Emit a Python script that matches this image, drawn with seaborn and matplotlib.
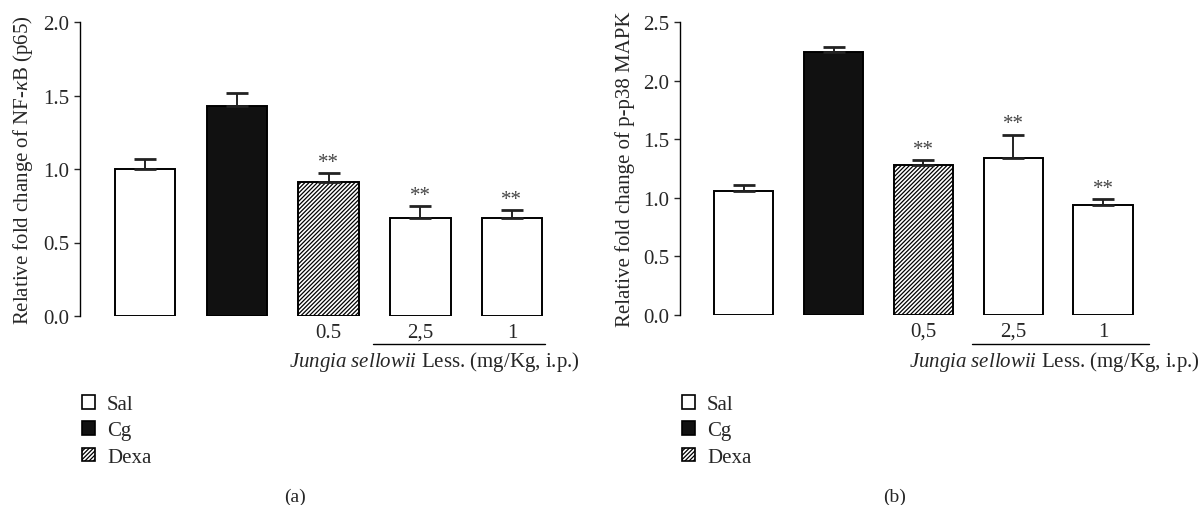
import numpy as np
import pandas as pd
import matplotlib
matplotlib.use("Agg")
import matplotlib.pyplot as plt
import matplotlib.transforms as mtransforms
from matplotlib.patches import Patch
import seaborn as sns

# data
groups = ["Sal", "Cg", "Dexa", "J2.5", "J1"]
nfkb_mean = [1.00, 1.43, 0.91, 0.67, 0.67]
nfkb_err = [0.07, 0.09, 0.06, 0.08, 0.05]
p38_mean = [1.06, 2.24, 1.28, 1.34, 0.94]
p38_err = [0.05, 0.05, 0.04, 0.20, 0.05]
stars = ["", "", "**", "**", "**"]
tick_a = ["", "", "0.5", "2,5", "1"]
tick_b = ["", "", "0,5", "2,5", "1"]
legend_labels = ["Sal", "Cg", "Dexa"]
fills = {"Sal": "white", "Cg": "#111111", "Dexa": "white", "J2.5": "white", "J1": "white"}

sns.set_style("white")
plt.rcParams["font.family"] = ["Liberation Serif", "DejaVu Serif"]
plt.rcParams["mathtext.fontset"] = "custom"
plt.rcParams["mathtext.it"] = "Liberation Serif:italic"
plt.rcParams["mathtext.rm"] = "Liberation Serif"
plt.rcParams["hatch.linewidth"] = 0.9

FS = 15
HATCH = "////////"
fig = plt.figure(figsize=(12.02, 5.06), dpi=100)
W, H = 1202, 506


def make_ax(left, right, top, bottom):
    return fig.add_axes([left / W, 1 - bottom / H, (right - left) / W, (bottom - top) / H])


def panel(ax, means, errs, ticks, ymax, ylabel, line_x, line_y, text_x, text_y):
    df = pd.DataFrame({"group": groups, "value": means})
    sns.barplot(data=df, x="group", y="value", hue="group", palette=fills,
                edgecolor="black", linewidth=1.4, width=0.66, legend=False, ax=ax)
    ax.patches[2].set_hatch(HATCH)
    ax.errorbar(range(len(groups)), means, yerr=[np.zeros(len(errs)), errs],
                fmt="none", ecolor="#222222", elinewidth=1.4, capsize=8, capthick=2)
    for i, s in enumerate(stars):
        if s:
            ax.text(i, means[i] + errs[i] + ymax * 0.004, s, ha="center", va="bottom",
                    fontsize=FS, color="#444444")
    ax.set_ylim(0, ymax)
    yt = np.arange(0, ymax + 0.01, 0.5)
    ax.set_yticks(yt)
    ax.set_yticklabels([f"{v:.1f}" for v in yt])
    ax.set_xlim(-0.71, 4.6)
    ax.set_xticks(range(len(groups)))
    ax.set_xticklabels(ticks)
    ax.tick_params(axis="x", length=0, pad=5, labelsize=FS)
    ax.tick_params(axis="y", direction="out", length=4, width=1, labelsize=FS, left=True)
    for side in ["top", "right", "bottom"]:
        ax.spines[side].set_visible(False)
    ax.spines["left"].set_linewidth(1)
    ax.spines["left"].set_color("black")
    ax.set_xlabel("")
    ax.set_ylabel(ylabel, fontsize=FS, labelpad=6)
    trans = mtransforms.blended_transform_factory(ax.transData, ax.transAxes)
    ax.plot(line_x, [line_y, line_y], color="black", lw=1, transform=trans, clip_on=False)
    ax.text(text_x, text_y, r"$\it{Jungia\ sellowii}$ Less. (mg/Kg, i.p.)", transform=trans,
            ha="center", va="center", fontsize=FS)


# panel (a): axis at x=80, bar spacing ~91.75 px
ax1 = make_ax(80, 567, 23, 317)
panel(ax1, nfkb_mean, nfkb_err, tick_a, 2.0, r"Relative fold change of NF-$\kappa$B (p65)",
      [2.485, 4.36], -0.095, 3.15, -0.153)
# panel (b): axis at x=680, bar spacing ~90 px
ax2 = make_ax(680, 1157, 23, 316)
panel(ax2, p38_mean, p38_err, tick_b, 2.5, "Relative fold change of p-p38 MAPK",
      [2.54, 4.51], -0.099, 3.46, -0.157)

for x0 in [82, 682]:
    handles = [Patch(facecolor="white", edgecolor="black", lw=1.2),
               Patch(facecolor="#111111", edgecolor="black", lw=1.2),
               Patch(facecolor="white", edgecolor="black", lw=1.2, hatch=HATCH)]
    fig.legend(handles, legend_labels, loc="upper left",
               bbox_to_anchor=(x0 / W, 1 - 396 / H), frameon=False, fontsize=FS,
               handlelength=0.62, handleheight=0.62, handletextpad=0.58,
               labelspacing=0.35, borderaxespad=0, borderpad=0)

fig.text(295 / W, 1 - 497 / H, "(a)", ha="center", va="center", fontsize=14)
fig.text(895 / W, 1 - 497 / H, "(b)", ha="center", va="center", fontsize=14)

fig.savefig("out.png", dpi=100)
